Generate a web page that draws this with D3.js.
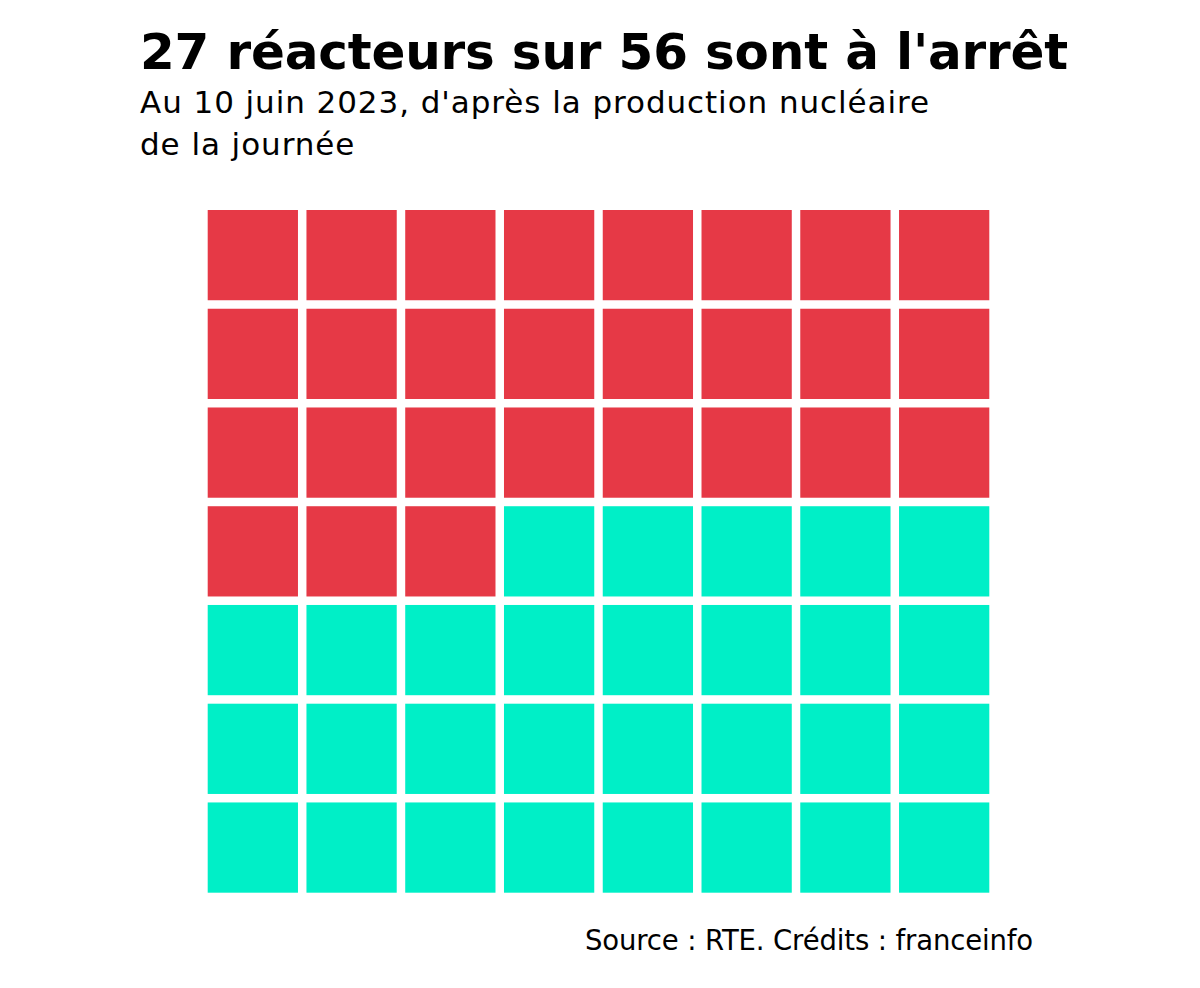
<!DOCTYPE html>
<html><head><meta charset="utf-8">
<script src="https://cdn.jsdelivr.net/npm/d3@7"></script>
<style>body{margin:0;background:#fff}</style>
</head><body>
<script>
const title = "27 réacteurs sur 56 sont à l'arrêt";
const subtitle = ["Au 10 juin 2023, d'après la production nucléaire", "de la journée"];
const source = "Source : RTE. Crédits : franceinfo";
const categories = ["À l'arrêt", "En fonctionnement"];
const counts = [27, 29];
const colors = ["#e63946", "#00efc7"];
const nCols = 8, nRows = 7;

const W = 1200, H = 988;
const FONT = "'DejaVu Sans', 'Open Sans', sans-serif";
const svg = d3.select("body").append("svg").attr("width", W).attr("height", H);

function spread(sel, target) {
  const w = sel.node().getComputedTextLength();
  const n = sel.text().length;
  sel.attr("letter-spacing", ((target - w) / n).toFixed(3));
}

const t = svg.append("text").attr("x", 140).attr("y", 69)
  .attr("font-family", FONT).attr("font-weight", 700).attr("font-size", 50)
  .attr("fill", "#000").text(title);
spread(t, 928);

const s = svg.selectAll("text.sub").data(subtitle).join("text").attr("class", "sub")
  .attr("x", 140).attr("y", (d, i) => 113 + i * 42)
  .attr("font-family", FONT).attr("font-size", 31).attr("fill", "#000").text(d => d);
const s0 = s.filter((d, i) => i === 0);
spread(s0, 790);
s.attr("letter-spacing", s0.attr("letter-spacing"));

const cells = [];
counts.forEach((c, ci) => { for (let k = 0; k < c; k++) cells.push(ci); });
const data = cells.map((c, i) => ({ c, col: i % nCols, row: Math.floor(i / nCols) }));

const x = d3.scaleBand().domain(d3.range(nCols)).range([207.7, 989.3]).paddingInner(0.086);
const y = d3.scaleBand().domain(d3.range(nRows)).range([210, 892.7]).paddingInner(0.086);

svg.append("g").selectAll("rect").data(data).join("rect")
  .attr("x", d => x(d.col)).attr("y", d => y(d.row))
  .attr("width", x.bandwidth()).attr("height", y.bandwidth())
  .attr("fill", d => colors[d.c]);

const src = svg.append("text").attr("x", 585).attr("y", 950)
  .attr("font-family", FONT).attr("font-size", 27.5).attr("fill", "#000").text(source);
spread(src, 448);
</script>
</body></html>
